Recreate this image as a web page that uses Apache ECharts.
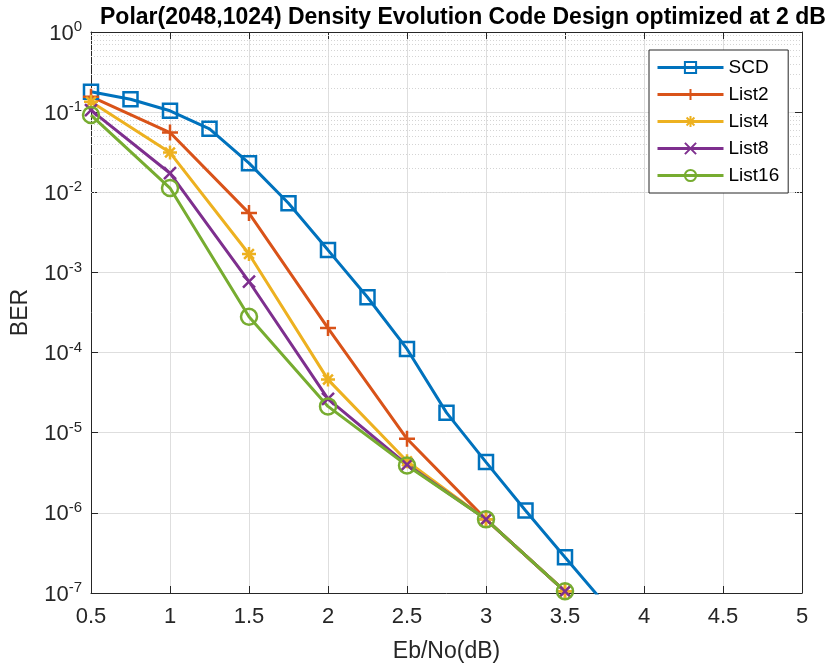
<!DOCTYPE html>
<html>
<head>
<meta charset="utf-8">
<script src="https://cdn.jsdelivr.net/npm/echarts@6/dist/echarts.min.js"></script>
<style>
html,body{margin:0;padding:0;background:#fff;}
#chart{width:830px;height:668px;}
</style>
</head>
<body>
<div id="chart"></div>
<script>
// ---- data ----
var seriesNames = ['SCD', 'List2', 'List4', 'List8', 'List16'];
var xSCD  = [0.5, 0.75, 1.0, 1.25, 1.5, 1.75, 2.0, 2.25, 2.5, 2.75, 3.0, 3.25, 3.5, 3.75];
var ySCD  = [0.18, 0.145, 0.104, 0.062, 0.0231, 0.0073, 0.0019, 4.9e-4, 1.11e-4, 1.78e-5, 4.3e-6, 1.07e-6, 2.8e-7, 7.4e-8];
var xList = [0.5, 1.0, 1.5, 2.0, 2.5, 3.0, 3.5];
var yList2  = [0.156, 0.0556, 0.0055, 2.02e-4, 8.4e-6, 8.3e-7, 1.05e-7];
var yList4  = [0.135, 0.0313, 0.0017, 4.6e-5, 4.4e-6, 8.3e-7, 1.05e-7];
var yList8  = [0.106, 0.0173, 7.7e-4, 2.65e-5, 4.0e-6, 8.3e-7, 1.05e-7];
var yList16 = [0.092, 0.0113, 2.8e-4, 2.13e-5, 3.9e-6, 8.3e-7, 1.05e-7];
var xTickLabels = ['0.5', '1', '1.5', '2', '2.5', '3', '3.5', '4', '4.5', '5'];
var yDecades = [0, -1, -2, -3, -4, -5, -6, -7];
var minorMultipliers = [2, 3, 4, 5, 6, 7, 8, 9];

var colors = ['#0072BD', '#D95319', '#EDB120', '#7E2F8E', '#77AC30'];
var FONT = 'Liberation Sans, Arial, Helvetica, sans-serif';

function pairs(xs, ys) { return xs.map(function (x, i) { return [x, ys[i]]; }); }

var minorLines = [];
yDecades.slice(1).forEach(function (d) {
  minorMultipliers.forEach(function (m) { minorLines.push({ yAxis: m * Math.pow(10, d) }); });
});

var symPlus = 'path://M5,0L5,10M0,5L10,5';
var symX = 'path://M0,0L10,10M0,10L10,0';
var symStar = 'path://M5,0L5,10M0,5L10,5M1.5,1.5L8.5,8.5M1.5,8.5L8.5,1.5';

function mkSeries(name, data, color, symbol, size) {
  return {
    name: name, type: 'line', data: data, clip: true,
    symbol: symbol, symbolSize: size, showAllSymbol: true,
    lineStyle: { color: color, width: 3 },
    itemStyle: { color: 'rgba(0,0,0,0)', borderColor: color, borderWidth: 2.5 },
    emphasis: { disabled: true },
    z: 5
  };
}

var chart = echarts.init(document.getElementById('chart'), null, { renderer: 'canvas' });
var option = {
  backgroundColor: '#fff',
  animation: false,
  color: colors,
  title: {
    text: 'Polar(2048,1024) Density Evolution Code Design optimized at 2 dB',
    left: 95, top: 1,
    textStyle: { fontFamily: FONT, fontSize: 23, fontWeight: 'bold', color: '#000' }
  },
  grid: { left: 91, right: 28, top: 32, bottom: 75, containLabel: false },
  legend: {
    orient: 'vertical', left: 649, top: 50, z: 20,
    padding: [8, 9, 8, 7],
    itemWidth: 66, itemHeight: 14, itemGap: 8,
    backgroundColor: '#fff', borderColor: '#262626', borderWidth: 1,
    lineStyle: { width: 3 },
    textStyle: { fontFamily: FONT, fontSize: 19, color: '#000' },
    data: seriesNames
  },
  xAxis: [{
    type: 'value', min: 0.5, max: 5, interval: 0.5, position: 'bottom',
    name: 'Eb/No(dB)', nameLocation: 'middle', nameGap: 47,
    nameTextStyle: { fontFamily: FONT, fontSize: 23, color: '#262626' },
    axisLine: { show: true, lineStyle: { color: '#262626', width: 1 } },
    axisTick: { show: true, inside: true, length: 7, lineStyle: { color: '#262626' } },
    axisLabel: {
      fontFamily: FONT, fontSize: 22, color: '#262626', margin: 13,
      formatter: function (v) { var i = Math.round((v - 0.5) / 0.5); return xTickLabels[i] || ''; }
    },
    splitLine: { show: true, lineStyle: { color: '#dedede', width: 1 } }
  }, {
    type: 'value', min: 0.5, max: 5, interval: 0.5, position: 'top',
    axisLine: { show: true, lineStyle: { color: '#262626', width: 1 } },
    axisTick: { show: true, inside: true, length: 7, lineStyle: { color: '#262626' } },
    axisLabel: { show: false }, splitLine: { show: false }
  }],
  yAxis: [{
    type: 'log', logBase: 10, min: 1e-7, max: 1, position: 'left',
    name: 'BER', nameLocation: 'middle', nameGap: 59, nameRotate: 90,
    nameTextStyle: { fontFamily: FONT, fontSize: 23, color: '#262626' },
    axisLine: { show: true, lineStyle: { color: '#262626', width: 1 } },
    axisTick: { show: true, inside: true, length: 7, lineStyle: { color: '#262626' } },
    axisLabel: {
      fontFamily: FONT, color: '#262626', margin: 9,
      formatter: function (v) { var e = Math.round(Math.log10(v)); return '{b|10}{s|' + e + '}'; },
      rich: {
        b: { fontFamily: FONT, fontSize: 22, color: '#262626', verticalAlign: 'bottom', lineHeight: 25 },
        s: { fontFamily: FONT, fontSize: 15, color: '#262626', verticalAlign: 'top', lineHeight: 25 }
      }
    },
    splitLine: { show: true, lineStyle: { color: '#dedede', width: 1 } }
  }, {
    type: 'log', logBase: 10, min: 1e-7, max: 1, position: 'right',
    axisLine: { show: true, lineStyle: { color: '#262626', width: 1 } },
    axisTick: { show: true, inside: true, length: 7, lineStyle: { color: '#262626' } },
    axisLabel: { show: false }, splitLine: { show: false }
  }],
  series: [
    {
      name: 'minorgrid', type: 'line', data: [], silent: true, z: 1,
      markLine: {
        silent: true, symbol: ['none', 'none'], animation: false, z: 1,
        label: { show: false },
        lineStyle: { color: '#d4d4d4', type: [1, 2], width: 1 },
        emphasis: { disabled: true },
        data: minorLines
      }
    },
    mkSeries('SCD', pairs(xSCD, ySCD), colors[0], 'rect', 14),
    mkSeries('List2', pairs(xList, yList2), colors[1], symPlus, 16),
    mkSeries('List4', pairs(xList, yList4), colors[2], symStar, 14),
    mkSeries('List8', pairs(xList, yList8), colors[3], symX, 12),
    mkSeries('List16', pairs(xList, yList16), colors[4], 'circle', 16)
  ]
};
chart.setOption(option);
</script>
</body>
</html>
